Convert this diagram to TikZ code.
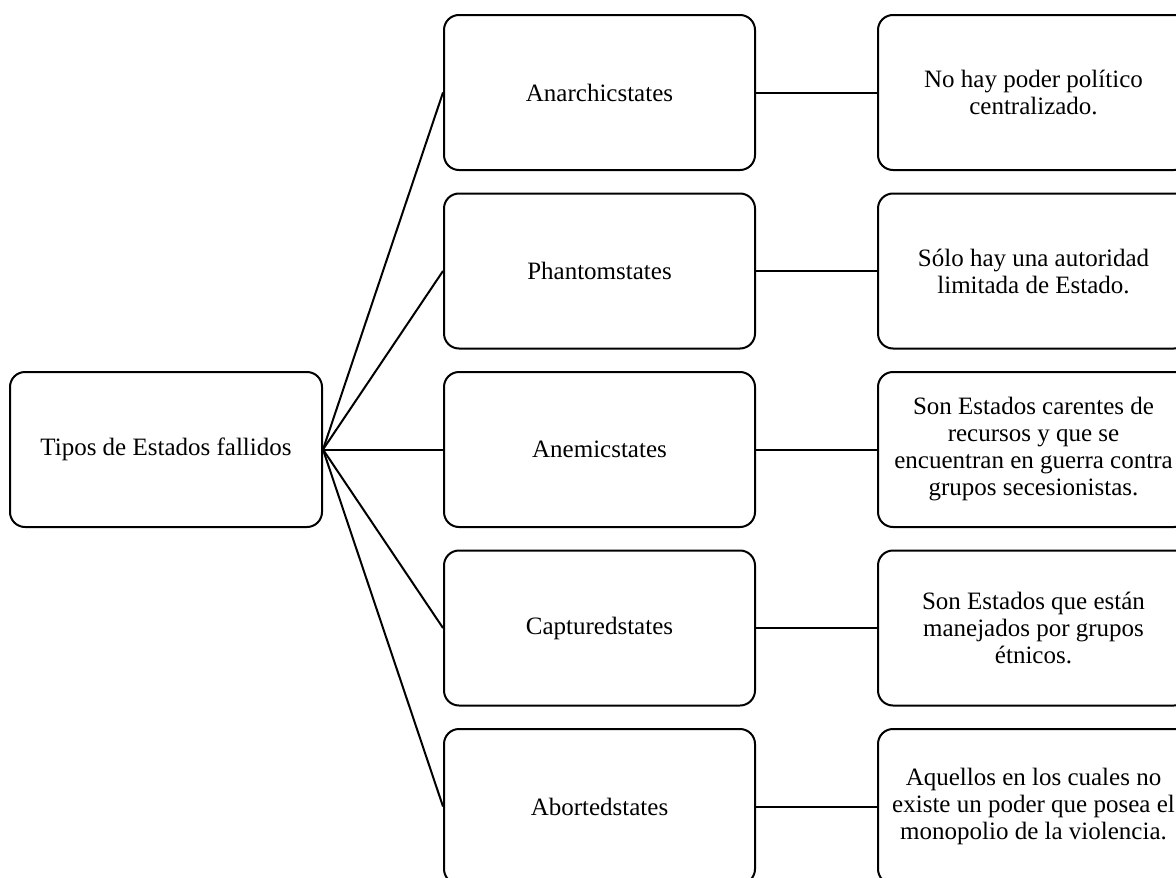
\documentclass[tikz,border=0pt]{standalone}
\usepackage{fontspec}
\setmainfont{Liberation Serif}
\begin{document}
\begin{tikzpicture}[x=1pt,y=-1pt,
  box/.style={draw=black, line width=2pt, rounded corners=15pt, minimum width=311pt, minimum height=155pt, align=center, inner sep=0pt, font=\fontsize{25}{27}\selectfont},
  lbox/.style={box, minimum width=312pt},
  link/.style={draw=black, line width=2pt}]
\useasboundingbox (0,0) rectangle (1176,878);
\clip (0,0) rectangle (1176,878);
\node[lbox] (root) at (166,449.5) {Tipos de Estados fallidos};
\node[box] (m1) at (599.5,92.5) {Anarchicstates};
\node[box] (m2) at (599.5,271) {Phantomstates};
\node[box] (m3) at (599.5,449.5) {Anemicstates};
\node[box] (m4) at (599.5,628) {Capturedstates};
\node[box] (m5) at (599.5,806.5) {Abortedstates};
\node[box] (r1) at (1033.5,92.5) {No hay poder político\\centralizado.};
\node[box] (r2) at (1033.5,271) {Sólo hay una autoridad\\limitada de Estado.};
\node[box] (r3) at (1033.5,449.5) {Son Estados carentes de\\recursos y que se\\encuentran en guerra contra\\grupos secesionistas.};
\node[box] (r4) at (1033.5,628) {Son Estados que están\\manejados por grupos\\étnicos.};
\node[box] (r5) at (1033.5,806.5) {Aquellos en los cuales no\\existe un poder que posea el\\monopolio de la violencia.};
\foreach \i in {1,...,5}{
  \draw[link] (root.east) -- (m\i.west);
  \draw[link] (m\i.east) -- (r\i.west);
}
\end{tikzpicture}
\end{document}
